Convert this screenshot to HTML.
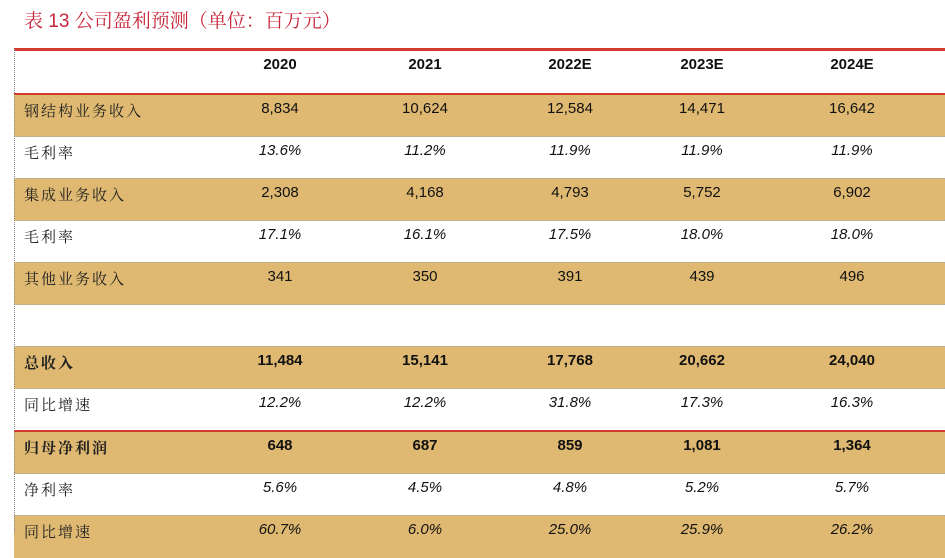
<!DOCTYPE html>
<html><head><meta charset="utf-8"><style>
body{margin:0;width:945px;height:533px;overflow:hidden;background:#fff;position:relative;font-family:"Liberation Sans","Noto Sans CJK SC",sans-serif;}
.t{position:absolute;left:24px;top:6px;font-size:19px;color:#c8263a;font-family:"Liberation Sans","Noto Serif CJK SC",serif;letter-spacing:0px}
.r{position:absolute;left:14px;width:931px;height:42px;border-top:1px dotted #aaa}
.tan{background:#dfb971}
.l{position:absolute;left:10px;top:5px;font-size:15px;color:#222;font-family:"Liberation Serif","Noto Serif CJK SC",serif;letter-spacing:2px}
.c{position:absolute;top:5px;width:100px;text-align:center;font-size:15px;color:#111}
.b{font-weight:bold}
.i{font-style:italic}
.red{position:absolute;left:14px;width:931px;height:3px;background:#d23a2e}
.vl{position:absolute;left:14px;top:49px;height:484px;border-left:1px dotted #888}
</style></head><body>
<div class="t">表 13 公司盈利预测（单位：百万元）</div>
<div class="c b" style="top:56px;left:230px">2020</div>
<div class="c b" style="top:56px;left:375px">2021</div>
<div class="c b" style="top:56px;left:520px">2022E</div>
<div class="c b" style="top:56px;left:652px">2023E</div>
<div class="c b" style="top:56px;left:802px">2024E</div>
<div class="r tan" style="top:94px"><span class="l">钢结构业务收入</span><span class="c" style="left:216px">8,834</span><span class="c" style="left:361px">10,624</span><span class="c" style="left:506px">12,584</span><span class="c" style="left:638px">14,471</span><span class="c" style="left:788px">16,642</span></div>
<div class="r" style="top:136px"><span class="l">毛利率</span><span class="c i" style="left:216px">13.6%</span><span class="c i" style="left:361px">11.2%</span><span class="c i" style="left:506px">11.9%</span><span class="c i" style="left:638px">11.9%</span><span class="c i" style="left:788px">11.9%</span></div>
<div class="r tan" style="top:178px"><span class="l">集成业务收入</span><span class="c" style="left:216px">2,308</span><span class="c" style="left:361px">4,168</span><span class="c" style="left:506px">4,793</span><span class="c" style="left:638px">5,752</span><span class="c" style="left:788px">6,902</span></div>
<div class="r" style="top:220px"><span class="l">毛利率</span><span class="c i" style="left:216px">17.1%</span><span class="c i" style="left:361px">16.1%</span><span class="c i" style="left:506px">17.5%</span><span class="c i" style="left:638px">18.0%</span><span class="c i" style="left:788px">18.0%</span></div>
<div class="r tan" style="top:262px"><span class="l">其他业务收入</span><span class="c" style="left:216px">341</span><span class="c" style="left:361px">350</span><span class="c" style="left:506px">391</span><span class="c" style="left:638px">439</span><span class="c" style="left:788px">496</span></div>
<div class="r" style="top:304px"></div>
<div class="r tan" style="top:346px"><span class="l b">总收入</span><span class="c b" style="left:216px">11,484</span><span class="c b" style="left:361px">15,141</span><span class="c b" style="left:506px">17,768</span><span class="c b" style="left:638px">20,662</span><span class="c b" style="left:788px">24,040</span></div>
<div class="r" style="top:388px"><span class="l">同比增速</span><span class="c i" style="left:216px">12.2%</span><span class="c i" style="left:361px">12.2%</span><span class="c i" style="left:506px">31.8%</span><span class="c i" style="left:638px">17.3%</span><span class="c i" style="left:788px">16.3%</span></div>
<div class="r tan" style="top:431px"><span class="l b">归母净利润</span><span class="c b" style="left:216px">648</span><span class="c b" style="left:361px">687</span><span class="c b" style="left:506px">859</span><span class="c b" style="left:638px">1,081</span><span class="c b" style="left:788px">1,364</span></div>
<div class="r" style="top:473px"><span class="l">净利率</span><span class="c i" style="left:216px">5.6%</span><span class="c i" style="left:361px">4.5%</span><span class="c i" style="left:506px">4.8%</span><span class="c i" style="left:638px">5.2%</span><span class="c i" style="left:788px">5.7%</span></div>
<div class="r tan" style="top:515px"><span class="l">同比增速</span><span class="c i" style="left:216px">60.7%</span><span class="c i" style="left:361px">6.0%</span><span class="c i" style="left:506px">25.0%</span><span class="c i" style="left:638px">25.9%</span><span class="c i" style="left:788px">26.2%</span></div>
<div class="red" style="top:48px"></div>
<div class="red" style="top:93px;height:2px"></div>
<div class="red" style="top:430px;height:2px"></div>
<div class="vl"></div>
</body></html>
